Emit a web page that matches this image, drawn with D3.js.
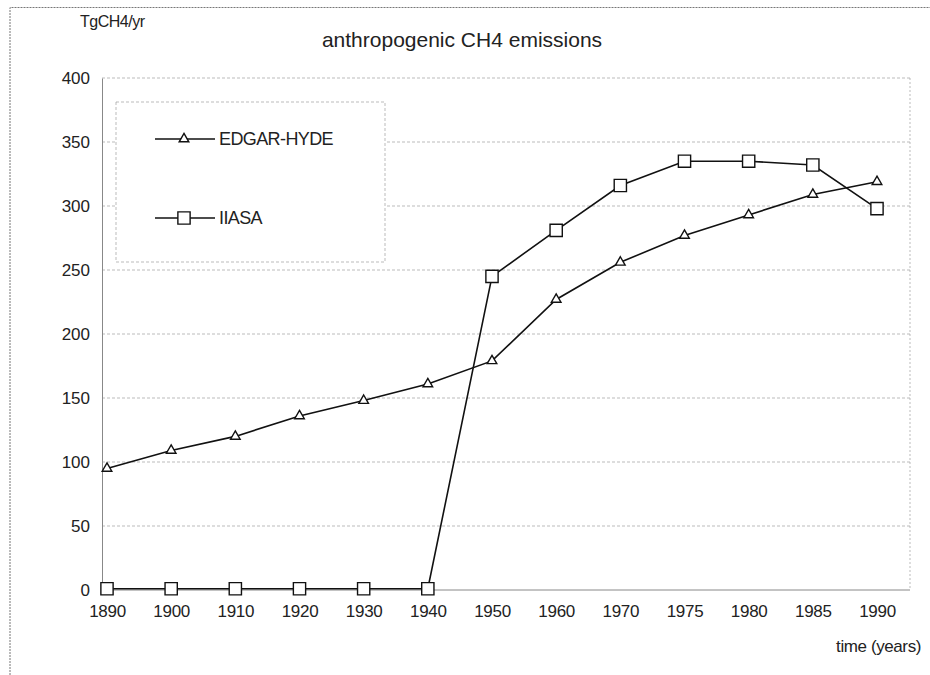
<!DOCTYPE html>
<html>
<head>
<meta charset="utf-8">
<script src="https://cdn.jsdelivr.net/npm/d3@7"></script>
<style>
  body { margin: 0; background: #fff; }
  text { font-family: "Liberation Sans", Arial, sans-serif; fill: #222; }
</style>
</head>
<body>
<svg id="chart" width="930" height="675"></svg>
<script>
// data
var years = ['1890', '1900', '1910', '1920', '1930', '1940', '1950', '1960', '1970', '1975', '1980', '1985', '1990'];
var edgarHyde = [95, 109, 120, 136, 148, 161, 179, 227, 256, 277, 293, 309, 319];
var iiasa = [1, 1, 1, 1, 1, 1, 245, 281, 316, 335, 335, 332, 298];
var yTicks = [0, 50, 100, 150, 200, 250, 300, 350, 400];

var svg = d3.select('#chart');

// outer frame of the scan
svg.append('path')
  .attr('d', 'M10,675 L10,7.5 L930,7.5')
  .attr('fill', 'none')
  .attr('stroke', '#777')
  .attr('stroke-dasharray', '2,1');

var x = d3.scalePoint().domain(years).range([107, 877]);
var y = d3.scaleLinear().domain([0, 400]).range([590, 78]);

// gridlines
svg.append('g')
  .selectAll('line')
  .data(yTicks.filter(d => d > 0))
  .enter()
  .append('line')
    .attr('x1', 102).attr('x2', 910)
    .attr('y1', d => y(d)).attr('y2', d => y(d))
    .attr('stroke', '#aaa')
    .attr('stroke-dasharray', '3,2')
    .attr('stroke-width', 0.8);

// right border of plot area
svg.append('line')
  .attr('x1', 910).attr('x2', 910).attr('y1', 78).attr('y2', 590)
  .attr('stroke', '#aaa').attr('stroke-dasharray', '2,2').attr('stroke-width', 0.8);

// y axis
var yAxis = svg.append('g')
  .attr('transform', 'translate(102,0)')
  .call(d3.axisLeft(y).tickValues(yTicks).tickSize(0).tickPadding(12));
yAxis.select('.domain').attr('stroke', '#888');
yAxis.selectAll('text')
  .style('font-size', '17px')
  .attr('fill', '#222');

// x axis
var xAxis = svg.append('g')
  .attr('transform', 'translate(0,590)')
  .call(d3.axisBottom(x).tickSize(0).tickPadding(15));
xAxis.select('.domain').remove();
svg.append('line')
  .attr('x1', 102).attr('x2', 910).attr('y1', 590).attr('y2', 590)
  .attr('stroke', '#888');
xAxis.selectAll('text')
  .style('font-size', '17px')
  .style('letter-spacing', '-0.3px')
  .attr('fill', '#222');

// series lines
var line = d3.line()
  .x((d, i) => x(years[i]))
  .y(d => y(d));

svg.append('path')
  .datum(edgarHyde)
  .attr('d', line)
  .attr('fill', 'none')
  .attr('stroke', '#111')
  .attr('stroke-width', 1.6);

svg.append('path')
  .datum(iiasa)
  .attr('d', line)
  .attr('fill', 'none')
  .attr('stroke', '#111')
  .attr('stroke-width', 1.6);

var tri = d3.symbol().type(d3.symbolTriangle).size(40);
var sq = d3.symbol().type(d3.symbolSquare).size(150);

svg.append('g')
  .selectAll('path')
  .data(edgarHyde)
  .enter()
  .append('path')
    .attr('d', tri)
    .attr('transform', (d, i) => 'translate(' + x(years[i]) + ',' + y(d) + ')')
    .attr('fill', '#fff')
    .attr('stroke', '#111')
    .attr('stroke-width', 1.4);

svg.append('g')
  .selectAll('path')
  .data(iiasa)
  .enter()
  .append('path')
    .attr('d', sq)
    .attr('transform', (d, i) => 'translate(' + x(years[i]) + ',' + y(d) + ')')
    .attr('fill', '#fff')
    .attr('stroke', '#111')
    .attr('stroke-width', 1.4);

// legend
var legend = svg.append('g');
legend.append('rect')
  .attr('x', 116).attr('y', 102).attr('width', 269).attr('height', 160)
  .attr('fill', '#fff')
  .attr('stroke', '#aaa')
  .attr('stroke-dasharray', '3,2')
  .attr('stroke-width', 0.8);

var entries = [
  { name: 'EDGAR-HYDE', sym: tri, y: 139 },
  { name: 'IIASA', sym: sq, y: 218 }
];
entries.forEach(function (e) {
  legend.append('line')
    .attr('x1', 155).attr('x2', 215).attr('y1', e.y).attr('y2', e.y)
    .attr('stroke', '#111').attr('stroke-width', 1.6);
  legend.append('path')
    .attr('d', e.sym)
    .attr('transform', 'translate(184,' + e.y + ')')
    .attr('fill', '#fff').attr('stroke', '#111').attr('stroke-width', 1.4);
  legend.append('text')
    .attr('x', 219).attr('y', e.y + 6)
    .style('font-size', '18px')
    .style('letter-spacing', '-0.6px')
    .text(e.name);
});

// titles
svg.append('text')
  .attr('x', 462).attr('y', 47)
  .attr('text-anchor', 'middle')
  .style('font-size', '21px')
  .text('anthropogenic CH4 emissions');

svg.append('text')
  .attr('x', 80).attr('y', 27)
  .style('font-size', '16px')
  .style('letter-spacing', '-0.5px')
  .text('TgCH4/yr');

svg.append('text')
  .attr('x', 921).attr('y', 652)
  .attr('text-anchor', 'end')
  .style('font-size', '17px')
  .style('letter-spacing', '-0.4px')
  .text('time (years)');
</script>
</body>
</html>
